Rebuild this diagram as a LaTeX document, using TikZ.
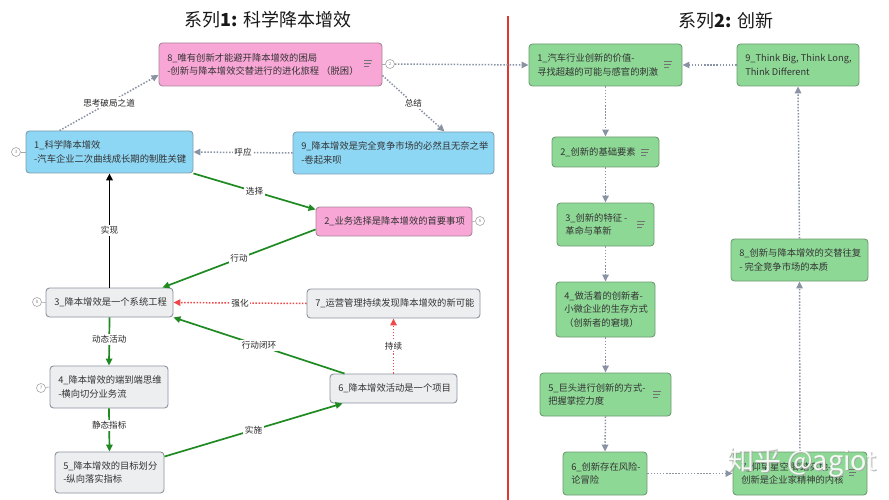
\documentclass[tikz,border=0pt]{standalone}
\usepackage{fontspec}
\setmainfont{Noto Sans CJK SC}
\usetikzlibrary{arrows.meta}
\definecolor{txt}{HTML}{333333}
\definecolor{pinkF}{HTML}{F8A6D6}
\definecolor{pinkD}{HTML}{A88598}
\definecolor{blueF}{HTML}{8DD7F5}
\definecolor{blueD}{HTML}{7E9DB0}
\definecolor{grayF}{HTML}{EDEEF0}
\definecolor{grayD}{HTML}{8C939E}
\definecolor{greenF}{HTML}{8ED896}
\definecolor{greenD}{HTML}{6E9C72}
\definecolor{edgeG}{HTML}{8A93A3}
\definecolor{edgeGreen}{HTML}{1F8A22}
\definecolor{edgeRed}{HTML}{F04848}
\definecolor{sepRed}{HTML}{E03A30}
\newcommand\mybox[7]{%
  \node[box,#2,minimum width={#5-#3},minimum height={#6-#4}] (#1) at ({(#3+#5)/2},{(#4+#6)/2}) {};
  \node[anchor=west,align=left,inner sep=0pt] at ([xshift=8.5pt]#1.west) {#7};}
\newcommand\noteicon[2]{%
  \draw[icon] (#1-4,#2-3) -- ++(8,0) (#1-4,#2) -- ++(7,0) (#1-4,#2+3) -- ++(5,0);}
\begin{document}
\begin{tikzpicture}[x=1pt,y=-1pt,
  every node/.style={font=\fontsize{9.3}{13.5}\selectfont, text=txt},
  box/.style={draw, rounded corners=3.5pt, line width=0.9pt, inner sep=0pt},
  pinkbox/.style={fill=pinkF, draw=pinkD},
  bluebox/.style={fill=blueF, draw=blueD},
  graybox/.style={fill=grayF, draw=grayD},
  greenbox/.style={fill=greenF, draw=greenD},
  icon/.style={draw=black!55, line width=0.7pt},
  tip/.style={-{Triangle[length=7pt,width=6.5pt]}},
  grayarrow/.style={tip, draw=edgeG, line width=1.5pt, dash pattern=on 1.5pt off 1.6pt},
  greenarrow/.style={tip, draw=edgeGreen, line width=1.7pt},
  blackarrow/.style={tip, draw=black, line width=1.9pt},
  redarrow/.style={tip, draw=edgeRed, line width=1.5pt, dash pattern=on 1.5pt off 1.6pt},
  lbl/.style={fill=white, inner sep=1.5pt, font=\fontsize{8.6}{10}\selectfont, text=black!85},
  marker/.style={circle, draw=black!35, fill=white, line width=0.6pt, minimum size=9pt, inner sep=0pt, font=\fontsize{4.5}{5}\selectfont, text=black!45},
  markline/.style={draw=black!35, line width=0.6pt},
  title/.style={font=\fontsize{18}{20}\selectfont, text=black!90},
  wmark/.style={font=\fontsize{27}{30}\selectfont}
]
\useasboundingbox[fill=white] (0,0) rectangle (889,500);

% titles and separator
\node[title] (T1) at (268,20) {系列{\bfseries 1:} 科学降本增效};
\node[title] (T2) at (726,21) {系列{\bfseries 2:} 创新};
\draw[sepRed, line width=1.5pt] (508,16) -- (508,500);

% left nodes
\mybox{L8}{pinkbox}{159}{43}{382}{86}{8\_唯有创新才能避开降本增效的困局\\-创新与降本增效交替进行的进化旅程 （脱困）}
\mybox{L1}{bluebox}{26}{131}{193}{173}{1\_科学降本增效\\-汽车企业二次曲线成长期的制胜关键}
\mybox{L9}{bluebox}{293}{132}{494}{174}{9\_降本增效是完全竞争市场的必然且无奈之举\\-卷起来呗}
\mybox{L2}{pinkbox}{316}{207}{472}{236}{2\_业务选择是降本增效的首要事项}
\mybox{L3}{graybox}{46}{288}{173}{317}{3\_降本增效是一个系统工程}
\mybox{L7}{graybox}{307}{289}{480}{318}{7\_运营管理持续发现降本增效的新可能}
\mybox{L4}{graybox}{50}{366}{168}{408}{4\_降本增效的端到端思维\\-横向切分业务流}
\mybox{L6}{graybox}{330}{374}{457}{403}{6\_降本增效活动是一个项目}
\mybox{L5}{graybox}{55}{452}{164}{493}{5\_降本增效的目标划分\\-纵向落实指标}

% right nodes
\mybox{R1}{greenbox}{529}{44}{682}{86}{1\_汽车行业创新的价值-\\寻找超越的可能与感官的刺激}
\mybox{R9}{greenbox}{737}{44}{859}{86}{9\_Think Big, Think Long,\\Think Different}
\mybox{R2}{greenbox}{552}{137}{659}{167}{2\_创新的基础要素}
\mybox{R3}{greenbox}{557}{203}{654}{246}{3\_创新的特征 -\\革命与革新}
\mybox{R8}{greenbox}{731}{239}{868}{281}{8\_创新与降本增效的交替往复\\- 完全竞争市场的本质}
\mybox{R4}{greenbox}{556}{282}{655}{337}{4\_做活着的创新者-\\小微企业的生存方式\\（创新者的窘境）}
\mybox{R5}{greenbox}{540}{373}{671}{416}{5\_巨头进行创新的方式-\\把握掌控力度}
\mybox{R6}{greenbox}{563}{452}{647}{495}{6\_创新存在风险-\\论冒险}
\mybox{R7}{greenbox}{733}{452}{867}{495}{7\_仰望星空 脚踏实地-\\创新是企业家精神的内核}

% note icons
\noteicon{368}{63}
\noteicon{668}{64}
\noteicon{645}{152}
\noteicon{641}{224}
\noteicon{657}{394}
\noteicon{853}{472}

% markers
\node[marker] (m2) at (390,64) {2};
\node[marker] (m3) at (16,152) {3};
\node[marker] (m6) at (480,221) {6};
\node[marker] (m8) at (37,302) {8};
\node[marker] (m7) at (41,388) {7};
\draw[markline] (L8.east |- m2) -- (m2);
\draw[markline] (L1.west) -- (m3);
\draw[markline] (L2.east) -- (m6);
\draw[markline] (L3.west) -- (m8);
\draw[markline] (L4.west) -- (m7);

% left connectors
\draw[grayarrow] ([xshift=34pt]L1.north west) -- node[lbl]{思考破局之道} ([yshift=-10.5pt]L8.west);
\draw[grayarrow] ([yshift=-11pt]L8.east) -- node[lbl]{总结} ([xshift=51pt]L9.north);
\draw[grayarrow] (L9.west) -- node[lbl]{呼应} (L1.east);
\draw[greenarrow] (L1.south east) -- node[lbl]{选择} ([yshift=-3pt]L2.north west);
\draw[greenarrow] ([yshift=7pt]L2.south west) -- node[lbl]{行动} ([xshift=-11pt]L3.north east);
\draw[blackarrow] (L3.north) -- node[lbl]{实现} (L1.south);
\draw[redarrow] (L7.west) -- node[lbl]{强化} (L3.east);
\draw[redarrow] (L6.north) -- node[lbl]{持续} (L7.south);
\draw[greenarrow] ([xshift=15pt]L6.north west) -- node[lbl]{行动闭环} (L3.south east);
\draw[greenarrow] (L3.south) -- node[lbl,pos=0.45]{动态活动} (L4.north);
\draw[greenarrow] (L4.south) -- node[lbl,pos=0.4]{静态指标} (L5.north);
\draw[greenarrow] ([yshift=-5pt]L5.north east) -- node[lbl]{实施} ([xshift=13pt]L6.south west);

% right connectors
\draw[grayarrow] (m2) -- (R1.west);
\draw[grayarrow] (R9.west) -- (R1.east);
\draw[grayarrow] (R1.south) -- (R2.north);
\draw[grayarrow] (R2.south) -- (R3.north);
\draw[grayarrow] (R3.south) -- (R4.north);
\draw[grayarrow] (R4.south) -- (R5.north);
\draw[grayarrow] (R5.south) -- (R6.north);
\draw[grayarrow] (R6.east) -- (R7.west);
\draw[grayarrow] (R7.north) -- (R8.south);
\draw[grayarrow] (R8.north) -- (R9.south);

% watermark (white text with grey shadow, as in the reference)
\node[wmark, text=gray!70, opacity=0.8] (wms) at (803,464) {知乎 @agiot};
\node[wmark, text=white, opacity=0.9] (wm) at (802,463) {知乎 @agiot};
\end{tikzpicture}
\end{document}
